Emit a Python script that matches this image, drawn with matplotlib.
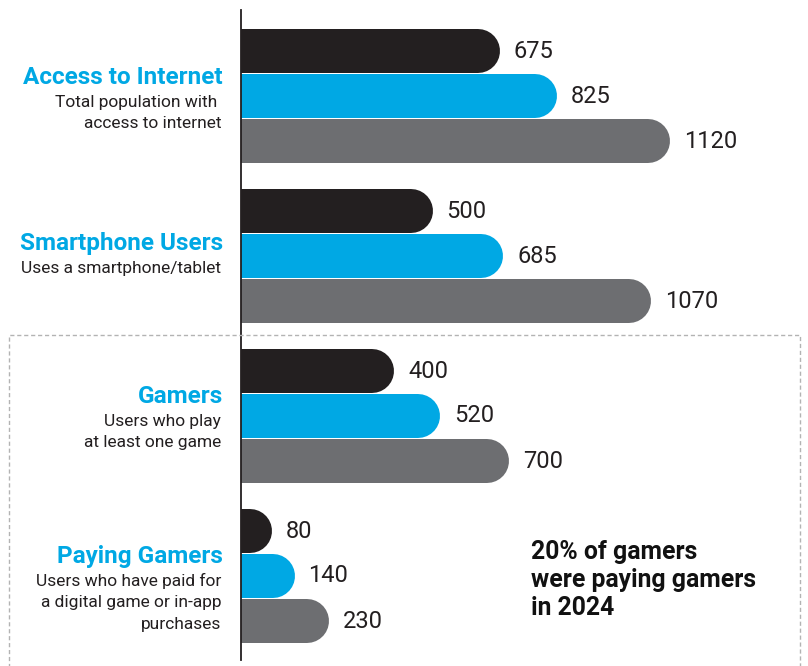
import matplotlib.pyplot as plt
import matplotlib.transforms as mtransforms
from matplotlib.patches import Rectangle

plt.rcParams["font.family"] = ["Roboto", "DejaVu Sans"]

# dados
categorias = ["Access to Internet", "Smartphone Users", "Gamers", "Paying Gamers"]
descricoes = [
    ["Total population with ", "access to internet"],
    ["Uses a smartphone/tablet"],
    ["Users who play", "at least one game"],
    ["Users who have paid for", "a digital game or in-app", "purchases"],
]
serie_preta = [675, 500, 400, 80]
serie_azul = [825, 685, 520, 140]
serie_cinza = [1120, 1070, 700, 230]
nota = "20% of gamers\nwere paying gamers\nin 2024"

cores = ["#231f20", "#00a8e4", "#6d6e71"]
azul_titulo = "#00a8e4"

W, H = 808, 666
DPI = 100
eixo_x = 241  # posição do eixo vertical em px
slot = 45  # altura de cada barra (px)
passo_grupo = 160  # distância entre grupos (px)
topo = 51  # centro da primeira barra (px)
xmax = 1480

fig = plt.figure(figsize=(W / DPI, H / DPI), dpi=DPI)
ax = fig.add_axes([eixo_x / W, 0, 1 - eixo_x / W, 1])
ax.set_xlim(0, xmax)
ax.set_ylim(H / slot, 0)
ax.axis("off")

# raio da ponta arredondada em unidades de dados
largura_px = W - eixo_x
espessura_px = 44
raio = (espessura_px / 2) * xmax / largura_px
lw = espessura_px * 72 / DPI

series = [serie_preta, serie_azul, serie_cinza]
for i in range(len(categorias)):
    centro = (topo + passo_grupo * i) / slot
    for j, serie in enumerate(series):
        y = centro + j
        v = serie[i]
        ax.plot(
            [-raio * 2, v - raio],
            [y, y],
            color=cores[j],
            linewidth=lw,
            solid_capstyle="round",
            clip_on=True,
        )
        ax.annotate(
            f"{v}",
            (v, y),
            xytext=(10, 0),
            textcoords="offset points",
            va="center",
            ha="left",
            fontsize=17,
            color="#231f20",
        )

# eixo vertical
ax.plot([0, 0], [10 / slot, 660 / slot], color="#231f20", linewidth=1.3, clip_on=False)

# rótulos das categorias
trans = mtransforms.blended_transform_factory(fig.transFigure, ax.transData)
desloc_titulo = [-19, -13, -20, -20]
for i, (cat, desc) in enumerate(zip(categorias, descricoes)):
    centro_px = topo + passo_grupo * i + slot
    y_tit = centro_px + desloc_titulo[i]
    ax.text(
        223 / W,
        y_tit / slot,
        cat,
        transform=trans,
        ha="right",
        va="center",
        fontsize=17.5,
        fontweight="bold",
        color=azul_titulo,
    )
    for k, linha in enumerate(desc):
        ax.text(
            221 / W,
            (y_tit + 25 + 21.5 * k) / slot,
            linha,
            transform=trans,
            ha="right",
            va="center",
            fontsize=12.5,
            color="#231f20",
        )

# caixa tracejada em volta dos jogadores
caixa = Rectangle(
    (9 / W, -10 / H),
    (800 - 9) / W,
    (H - 335 + 10) / H,
    transform=fig.transFigure,
    fill=False,
    edgecolor="#b3b3b3",
    linestyle=(0, (3, 2)),
    linewidth=1.0,
)
fig.add_artist(caixa)

fig.text(
    531 / W,
    1 - 540 / H,
    nota,
    ha="left",
    va="top",
    fontsize=17.8,
    fontweight="bold",
    color="#111111",
    linespacing=1.2,
)

fig.savefig("out.png", dpi=DPI, facecolor="white")
